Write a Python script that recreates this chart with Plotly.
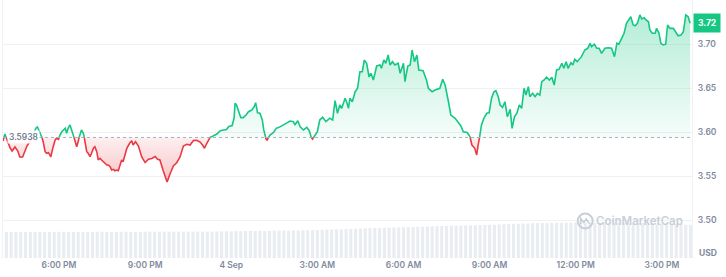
import pandas as pd
import plotly.graph_objects as go

BASE = 3.5938

times = [
    "16:03", "16:07", "16:13", "16:18", "16:22", "16:28", "16:34", "16:38", "16:44", "16:49",
    "16:53", "17:01", "17:08", "17:12", "17:15", "17:20", "17:24", "17:27", "17:31", "17:34",
    "17:38", "17:43", "17:47", "17:52", "17:55", "17:59", "18:02", "18:06", "18:09", "18:13",
    "18:16", "18:19", "18:23", "18:27", "18:30", "18:33", "18:37", "18:40", "18:44", "18:47",
    "18:51", "18:54", "18:58", "19:01", "19:05", "19:08", "19:12", "19:15", "19:19", "19:22",
    "19:26", "19:29", "19:33", "19:36", "19:40", "19:43", "19:47", "19:50", "19:54", "19:57",
    "20:01", "20:04", "20:11", "20:14", "20:22", "20:28", "20:32", "20:35", "20:40", "20:46",
    "20:53", "21:00", "21:07", "21:14", "21:21", "21:26", "21:31", "21:38", "21:42", "21:46",
    "21:52", "21:59", "22:06", "22:13", "22:20", "22:27", "22:34", "22:41", "22:48", "22:55",
    "23:00", "23:04", "23:09", "23:16", "23:22", "23:30", "23:37", "23:43", "23:50", "23:55",
    "00:02", "00:06", "00:08", "00:11", "00:15", "00:20", "00:25", "00:31", "00:36", "00:43",
    "00:48", "00:51", "00:55", "01:00", "01:05", "01:08", "01:13", "01:15", "01:21", "01:28",
    "01:34", "01:40", "01:49", "01:56", "02:03", "02:10", "02:13", "02:19", "02:24", "02:31",
    "02:38", "02:43", "02:46", "02:50", "02:55", "03:00", "03:05", "03:11", "03:18", "03:26",
    "03:32", "03:37", "03:42", "03:47", "03:51", "03:58", "04:01", "04:05", "04:08", "04:13",
    "04:19", "04:24", "04:29", "04:34", "04:38", "04:43", "04:48", "04:52", "04:57", "05:04",
    "05:11", "05:14", "05:19", "05:23", "05:28", "05:32", "05:37", "05:42", "05:49", "05:53",
    "06:00", "06:03", "06:09", "06:14", "06:18", "06:23", "06:28", "06:32", "06:41", "06:48",
    "06:52", "07:00", "07:06", "07:16", "07:22", "07:27", "07:34", "07:39", "07:48", "07:55",
    "08:00", "08:05", "08:13", "08:19", "08:23", "08:29", "08:33", "08:36", "08:40", "08:43",
    "08:48", "08:54", "08:59", "09:04", "09:09", "09:13", "09:18", "09:22", "09:27", "09:32",
    "09:37", "09:43", "09:47", "09:52", "09:57", "10:02", "10:07", "10:12", "10:16", "10:21",
    "10:24", "10:30", "10:35", "10:40", "10:45", "10:49", "10:54", "10:59", "11:05", "11:10",
    "11:15", "11:20", "11:25", "11:31", "11:35", "11:40", "11:44", "11:50", "11:54", "11:58",
    "12:03", "12:07", "12:12", "12:19", "12:25", "12:30", "12:33", "12:39", "12:44", "12:49",
    "12:54", "13:01", "13:08", "13:15", "13:21", "13:26", "13:30", "13:36", "13:41", "13:46",
    "13:51", "13:55", "14:00", "14:04", "14:09", "14:14", "14:18", "14:23", "14:27", "14:32",
    "14:35", "14:40", "14:46", "14:49", "14:54", "14:58", "15:03", "15:08", "15:12", "15:17",
    "15:24", "15:29", "15:34", "15:40", "15:45", "15:50", "15:55", "15:59",
]

prices = [
    3.5898, 3.5977, 3.5886, 3.5818, 3.5784, 3.5830, 3.5784, 3.5716, 3.5716, 3.5795,
    3.5841, 3.5909, 3.5989, 3.6045, 3.6057, 3.6003, 3.5947, 3.5890, 3.5776, 3.5758,
    3.5765, 3.5719, 3.5815, 3.5909, 3.5928, 3.5917, 3.5966, 3.6003, 3.6023, 3.6042,
    3.5985, 3.6042, 3.6080, 3.6023, 3.5966, 3.5909, 3.5833, 3.5890, 3.5985, 3.6023,
    3.5985, 3.5909, 3.5776, 3.5758, 3.5719, 3.5758, 3.5815, 3.5833, 3.5776, 3.5682,
    3.5701, 3.5682, 3.5662, 3.5644, 3.5625, 3.5625, 3.5606, 3.5568, 3.5576, 3.5560,
    3.5568, 3.5560, 3.5682, 3.5662, 3.5818, 3.5875, 3.5901, 3.5852, 3.5890, 3.5841,
    3.5716, 3.5653, 3.5690, 3.5699, 3.5722, 3.5690, 3.5682, 3.5557, 3.5492, 3.5432,
    3.5523, 3.5614, 3.5651, 3.5716, 3.5841, 3.5860, 3.5852, 3.5903, 3.5906, 3.5886,
    3.5852, 3.5815, 3.5872, 3.5940, 3.5955, 3.5977, 3.6015, 3.6023, 3.6028, 3.6063,
    3.6074, 3.6159, 3.6326, 3.6307, 3.6250, 3.6163, 3.6163, 3.6193, 3.6231, 3.6250,
    3.6288, 3.6333, 3.6219, 3.6213, 3.6136, 3.6023, 3.5917, 3.5909, 3.5966, 3.5992,
    3.6042, 3.6053, 3.6080, 3.6106, 3.6125, 3.6117, 3.6080, 3.6128, 3.6060, 3.6023,
    3.6053, 3.6015, 3.5947, 3.5920, 3.5966, 3.6003, 3.6136, 3.6167, 3.6117, 3.6156,
    3.6136, 3.6356, 3.6213, 3.6307, 3.6269, 3.6383, 3.6344, 3.6269, 3.6383, 3.6344,
    3.6458, 3.6497, 3.6685, 3.6685, 3.6818, 3.6781, 3.6628, 3.6667, 3.6591, 3.6750,
    3.6761, 3.6724, 3.6818, 3.6781, 3.6875, 3.6761, 3.6799, 3.6761, 3.6781, 3.6667,
    3.6781, 3.6572, 3.6750, 3.6761, 3.6932, 3.6799, 3.6875, 3.6705, 3.6697, 3.6591,
    3.6497, 3.6458, 3.6477, 3.6497, 3.6599, 3.6534, 3.6344, 3.6193, 3.6156, 3.6099,
    3.6068, 3.6003, 3.5994, 3.5947, 3.5852, 3.5815, 3.5739, 3.5852, 3.5966, 3.6080,
    3.6156, 3.6213, 3.6219, 3.6383, 3.6458, 3.6469, 3.6401, 3.6307, 3.6281, 3.6344,
    3.6174, 3.6258, 3.6042, 3.6174, 3.6213, 3.6307, 3.6269, 3.6497, 3.6420, 3.6515,
    3.6401, 3.6440, 3.6401, 3.6440, 3.6420, 3.6572, 3.6591, 3.6622, 3.6591, 3.6622,
    3.6534, 3.6705, 3.6713, 3.6781, 3.6724, 3.6799, 3.6724, 3.6788, 3.6761, 3.6826,
    3.6799, 3.6826, 3.6856, 3.6932, 3.6951, 3.7008, 3.6969, 3.6997, 3.6951, 3.6951,
    3.6894, 3.6951, 3.6958, 3.6951, 3.6856, 3.7008, 3.6997, 3.7065, 3.7122, 3.7235,
    3.7273, 3.7310, 3.7216, 3.7208, 3.7235, 3.7330, 3.7284, 3.7299, 3.7273, 3.7253,
    3.7159, 3.7122, 3.7122, 3.7178, 3.7122, 3.7008, 3.6989, 3.6997, 3.7216, 3.7178,
    3.7178, 3.7140, 3.7094, 3.7102, 3.7140, 3.7330, 3.7310, 3.7235,
]

# relative 24h volume, one bar every 10 minutes from 16:10 (Sep 3) to 16:00 (Sep 4)
volume = [
    26.0, 26.1, 26.0, 25.9, 26.0, 26.1, 26.2, 26.1, 26.0, 26.0, 26.1, 26.2, 26.2, 26.1, 26.0, 26.0,
    26.1, 26.1, 26.2, 26.3, 26.2, 26.1, 26.1, 26.2, 26.3, 26.2, 26.2, 26.1, 26.2, 26.3, 26.3, 26.2,
    26.3, 26.4, 26.3, 26.3, 26.4, 26.4, 26.3, 26.4, 26.5, 26.4, 26.4, 26.5, 26.6, 26.5, 26.6,
    26.7, 26.8, 26.8, 26.9, 27.0, 27.0, 27.1, 27.2, 27.2, 27.3, 27.4, 27.4, 27.5, 27.6, 27.6, 27.7, 27.8, 27.9,
    28.0, 28.2, 28.3, 28.5, 28.7, 28.8, 29.0, 29.2, 29.3, 29.5, 29.7, 29.8, 30.0, 30.1, 30.2, 30.4, 30.5, 30.6,
    30.7, 30.9, 31.0, 31.2, 31.4, 31.5, 31.7, 31.8, 32.0, 32.1, 32.3, 32.4, 32.5, 32.6, 32.7, 32.8, 32.9, 33.0,
    33.1, 33.3, 33.5, 33.7, 33.9, 34.1, 34.3, 34.5, 34.6, 34.8, 34.9, 35.0, 35.1, 35.2, 35.2, 35.3, 35.3, 35.4,
    35.4, 35.4, 35.5, 35.5, 35.4, 35.4, 35.5, 35.4, 35.4, 35.3, 35.3, 35.2,
    35.1, 35.0, 34.9, 34.8, 34.6, 34.5, 34.3, 34.1, 33.9, 33.7, 33.5, 33.3, 33.2,
]
VOL_START = "2024-09-03 16:10"

x_tick_vals = ["2024-09-03 18:00", "2024-09-03 21:00", "2024-09-04 00:00", "2024-09-04 03:00",
               "2024-09-04 06:00", "2024-09-04 09:00", "2024-09-04 12:00", "2024-09-04 15:00"]
x_tick_text = ["6:00 PM", "9:00 PM", "4 Sep", "3:00 AM", "6:00 AM", "9:00 AM", "12:00 PM", "3:00 PM"]
y_tick_vals = [3.50, 3.55, 3.60, 3.65, 3.70, 3.75]
y_tick_text = ["3.50", "3.55", "3.60", "3.65", "3.70", ""]

GREEN = "#16c784"
RED = "#ea3943"
GREY = "#808a9d"

# ---- build timestamps (day rolls over after midnight)
dates = []
day = pd.Timestamp("2024-09-03")
prev = -1
for s in times:
    h, m = map(int, s.split(":"))
    mins = h * 60 + m
    if mins < prev:
        day += pd.Timedelta(days=1)
    prev = mins
    dates.append(day + pd.Timedelta(minutes=mins))

# ---- insert baseline crossings so colours switch exactly at the reference price
xs, ys = [], []
for i, p in enumerate(prices):
    if i > 0:
        p0 = prices[i - 1]
        if (p0 - BASE) * (p - BASE) < 0:
            f = (BASE - p0) / (p - p0)
            xs.append(dates[i - 1] + (dates[i] - dates[i - 1]) * f)
            ys.append(BASE)
    xs.append(dates[i])
    ys.append(p)

upper = [max(v, BASE) for v in ys]
lower = [min(v, BASE) for v in ys]
g_line = [v if v >= BASE else None for v in ys]
r_line = [v if v <= BASE else None for v in ys]
base_arr = [BASE] * len(xs)

vol_x = pd.date_range(VOL_START, periods=len(volume), freq="10min")

fig = go.Figure()
fig.add_trace(go.Scatter(x=xs, y=base_arr, mode="lines", line=dict(width=0), hoverinfo="skip"))
fig.add_trace(go.Scatter(
    x=xs, y=upper, mode="lines", line=dict(width=0), fill="tonexty", hoverinfo="skip",
    fillgradient=dict(type="vertical", start=BASE, stop=max(prices),
                      colorscale=[[0, "rgba(22,199,132,0.04)"], [1, "rgba(22,199,132,0.32)"]])))
fig.add_trace(go.Scatter(x=xs, y=base_arr, mode="lines", line=dict(width=0), hoverinfo="skip"))
fig.add_trace(go.Scatter(
    x=xs, y=lower, mode="lines", line=dict(width=0), fill="tonexty", hoverinfo="skip",
    fillgradient=dict(type="vertical", start=min(prices), stop=BASE,
                      colorscale=[[0, "rgba(234,57,67,0.30)"], [1, "rgba(234,57,67,0.08)"]])))
fig.add_trace(go.Scatter(x=xs, y=g_line, mode="lines", line=dict(color=GREEN, width=1.6),
                         connectgaps=False, hoverinfo="skip"))
fig.add_trace(go.Scatter(x=xs, y=r_line, mode="lines", line=dict(color=RED, width=1.6),
                         connectgaps=False, hoverinfo="skip"))
fig.add_trace(go.Bar(x=vol_x, y=volume, yaxis="y2", marker=dict(color="#e9ecf0", line=dict(width=0)),
                     hoverinfo="skip"))

tick_font = dict(family="Inter, sans-serif", size=8.5, color=GREY, weight=600)

fig.update_layout(
    width=726, height=277,
    margin=dict(l=3, r=34, t=0, b=19),
    paper_bgcolor="white", plot_bgcolor="white",
    showlegend=False, hovermode=False, bargap=0.35,
    xaxis=dict(type="date", range=["2024-09-03 16:03", "2024-09-04 16:03"],
               tickvals=x_tick_vals, ticktext=x_tick_text, tickfont=tick_font,
               showgrid=False, zeroline=False, showline=False, ticks=""),
    yaxis=dict(side="right", range=[3.45682, 3.75], tickvals=y_tick_vals, ticktext=y_tick_text,
               tickfont=tick_font, showgrid=True, gridcolor="#eff1f4", gridwidth=1,
               zeroline=False, showline=True, mirror=True, linecolor="#eff1f4", ticks="",
               ticklabelstandoff=3),
    yaxis2=dict(overlaying="y", range=[0, 258], visible=False),
    shapes=[
        dict(type="line", xref="paper", yref="y", x0=0, x1=1, y0=BASE, y1=BASE,
             line=dict(color="#a7afbf", width=1, dash="dot"), layer="above"),
        dict(type="circle", xref="paper", yref="paper", xsizemode="pixel", ysizemode="pixel",
             xanchor=0.845, yanchor=0.1434, x0=-7.5, x1=7.5, y0=-7.5, y1=7.5,
             line=dict(color="#c9cfd9", width=2), layer="above"),
        dict(type="path", xref="paper", yref="paper", xsizemode="pixel", ysizemode="pixel",
             xanchor=0.845, yanchor=0.1434,
             path="M -4.5,-3 L -4.5,2.5 L -1.5,-1.5 L 1,2 L 3,-1 L 4.5,-2.5",
             line=dict(color="#c9cfd9", width=1.6), layer="above"),
    ],
    annotations=[
        dict(xref="paper", yref="y", x=0, y=BASE, xanchor="left", yanchor="middle", xshift=4,
             text="3.5938", showarrow=False, bgcolor="rgba(255,255,255,0.9)", borderpad=1,
             font=dict(family="Inter, sans-serif", size=8.5, color="#616e85", weight=500)),
        dict(xref="paper", yref="y", x=1, y=prices[-1], xanchor="left", yanchor="middle", xshift=1,
             text="3.72", showarrow=False, bgcolor=GREEN, borderpad=4,
             font=dict(family="Inter, sans-serif", size=8.5, color="white", weight=700)),
        dict(xref="paper", yref="paper", x=1, y=0, xanchor="left", yanchor="middle", xshift=5, yshift=5,
             text="USD", showarrow=False,
             font=dict(family="Inter, sans-serif", size=8.5, color=GREY, weight=700)),
        dict(xref="paper", yref="paper", x=0.9245, y=0.1434, xanchor="center", yanchor="middle",
             text="CoinMarketCap", showarrow=False,
             font=dict(family="Inter, sans-serif", size=11.5, color="#c9cfd9", weight=600)),
    ],
)

fig.write_html("out.html")
